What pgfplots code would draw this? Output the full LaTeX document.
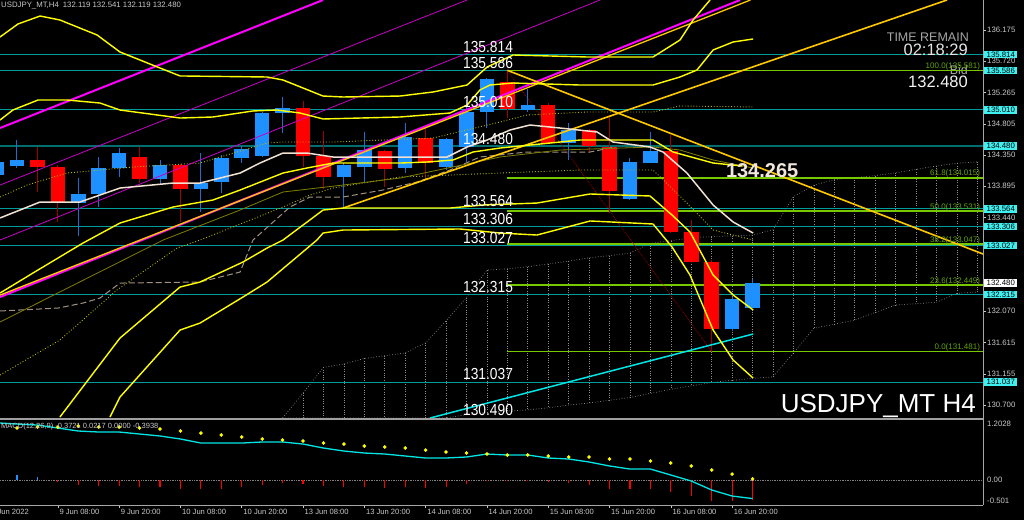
\documentclass[border=0pt]{standalone}
\usepackage{pgfplots}
\pgfplotsset{compat=1.18}
\usepackage{pgfplotstable}
\usepackage{fontspec}
\setmainfont{Liberation Sans}
\definecolor{bullc}{RGB}{30,144,255}
\definecolor{bullw}{RGB}{30,110,210}
\definecolor{bearc}{RGB}{255,0,0}
\definecolor{bearw}{RGB}{160,0,0}
\definecolor{lvl}{RGB}{0,155,155}
\definecolor{lvldark}{RGB}{0,110,110}
\definecolor{fibc}{RGB}{120,200,0}
\definecolor{fibtxt}{RGB}{100,165,0}
\definecolor{gold}{RGB}{255,200,0}
\definecolor{ylw}{RGB}{255,255,0}
\definecolor{olv}{RGB}{128,128,0}
\definecolor{dotyl}{RGB}{185,185,0}
\definecolor{beige}{RGB}{240,225,210}
\definecolor{dashc}{RGB}{160,145,130}
\definecolor{mag}{RGB}{255,0,255}
\definecolor{magt}{RGB}{200,0,200}
\definecolor{cld}{RGB}{140,140,140}
\definecolor{aqua}{RGB}{0,230,230}
\definecolor{boxc}{RGB}{64,240,240}
\definecolor{axt}{RGB}{200,200,200}
\definecolor{lbl}{RGB}{240,230,220}
\definecolor{diag}{RGB}{150,0,0}
\newcommand{\fs}[1]{\fontsize{#1}{#1}\selectfont}

\pgfplotstableread{
k o h l c
-1 134.058 134.306 134.014 134.252
0 134.185 134.569 134.160 134.273
3 133.645 134.019 133.172 133.785
4 133.781 134.317 133.595 134.156
5 134.156 134.448 134.033 134.375
7 133.995 134.277 133.912 134.204
9 133.854 134.384 133.522 133.946
10 133.952 134.350 133.791 134.306
11 134.302 134.482 134.229 134.433
12 134.336 134.982 134.325 134.959
13 134.959 135.201 134.676 135.032
16 134.033 134.233 133.591 134.204
17 134.179 134.690 133.937 134.423
19 134.156 134.822 134.083 134.609
21 134.179 134.598 134.131 134.579
22 134.471 135.153 134.252 134.982
23 134.974 135.474 134.740 135.455
25 135.007 135.309 134.982 135.080
27 134.521 134.813 134.277 134.715
30 133.708 134.302 133.700 134.252
31 134.238 134.690 134.233 134.413
35 131.806 132.277 131.781 132.248
36 132.119 132.541 132.119 132.480
}\bulltab

\pgfplotstableread{
k o h l c
1 134.282 134.463 133.814 134.175
2 134.171 134.204 133.376 133.645
6 134.325 134.471 133.937 133.995
8 134.204 134.219 133.376 133.854
14 135.032 135.139 134.179 134.336
15 134.336 134.705 133.849 134.033
18 134.409 134.423 133.887 134.146
20 134.594 134.740 134.010 134.238
24 135.420 135.586 134.886 135.022
26 135.080 135.114 134.521 134.530
28 134.715 134.730 134.375 134.482
29 134.471 134.934 133.508 133.825
32 134.413 134.642 133.212 133.222
33 133.222 133.401 132.774 132.784
34 132.793 132.817 131.481 131.806
}\beartab

\pgfplotstableread{
k lo hi
13 130.511 130.511
14 130.511 130.875
15 130.511 131.25
16 130.511 131.30
17 130.511 131.38
18 130.511 131.42
19 130.511 131.46
20 130.511 131.61
21 130.511 131.93
22 130.56 132.27
23 130.59 132.67
24 130.61 132.69
25 130.63 132.72
26 130.66 132.76
27 130.70 132.80
28 130.73 132.85
29 130.77 132.88
30 130.81 132.92
31 130.87 133.06
32 130.93 133.10
33 130.98 133.14
34 131.03 133.16
35 131.06 133.17
36 131.09 133.18
37 131.11 133.26
38 131.46 133.74
39 131.82 133.91
40 131.88 133.99
41 131.94 134.02
42 132.05 134.05
43 132.16 134.09
44 132.18 134.14
45 132.20 134.19
46 132.33 134.23
47 132.35 134.25
}\cloudtab

\pgfplotstableread{
k v
2 -0.033
3 -0.100
4 -0.114
5 -0.120
6 -0.147
7 -0.147
8 -0.187
9 -0.187
10 -0.174
11 -0.147
12 -0.100
13 -0.053
14 -0.087
15 -0.120
16 -0.147
17 -0.147
18 -0.160
19 -0.147
20 -0.160
21 -0.134
22 -0.080
23 -0.020
24 -0.013
25 -0.010
26 -0.033
27 -0.053
28 -0.100
29 -0.180
30 -0.187
31 -0.187
32 -0.247
33 -0.321
34 -0.414
35 -0.421
36 -0.394
}\histtab

\newcommand{\lvlline}[1]{\addplot[lvl, line width=0.9pt] coordinates {(-0.83,#1)(47.28,#1)};}
\newcommand{\lvllabel}[1]{\node[anchor=base east, text=white, font=\fs{16}, inner sep=0pt, xscale=0.86, yshift=2pt] at (axis cs:24.28,#1) {#1};}
\newcommand{\lvlbox}[1]{\node[anchor=west, fill=boxc, text=black, font=\fs{7.8}, inner xsep=2.5pt, inner ysep=1pt, xshift=1pt] at (axis cs:47.28,#1) {#1};}
\newcommand{\fibline}[1]{\addplot[fibc, line width=1.6pt] coordinates {(24,#1)(47.28,#1)};}
\newcommand{\fiblabel}[2]{\node[anchor=base east, text=fibtxt, font=\fs{8}, inner sep=0pt, yshift=2pt] at (axis cs:47.14,#2) {#1(#2)};}

\begin{document}
\begin{tikzpicture}
\useasboundingbox (0pt,0pt) rectangle (1024pt,520pt);
\fill[black] (0pt,0pt) rectangle (1024pt,520pt);
\node[anchor=base east, text=gray!70, font=\fs{12.5}, inner sep=0pt] at (968pt,445pt) {Bid};

\begin{axis}[
  at={(0pt,102pt)}, anchor=south west,
  scale only axis, width=983pt, height=418pt,
  xmin=-0.832, xmax=47.28, ymin=130.511, ymax=136.613,
  axis line style={draw=none},
  xtick=\empty,
  ytick={130.700,131.155,131.615,132.070,132.530,132.985,133.440,133.895,134.350,134.805,135.265,135.720,136.175},
  yticklabels={130.700,131.155,131.615,132.070,,,133.440,133.895,134.350,134.805,135.265,135.720,136.175},
  ytick pos=right, yticklabel pos=right,
  yticklabel style={font=\fs{7.8}, text=axt, anchor=west, inner sep=1pt},
  major tick length=3pt, tick align=outside, tick style={axt, line width=0.6pt},
  clip mode=individual,
  every axis plot/.append style={line join=round},
]
% Ichimoku cloud
\addplot[draw=none, mark=none, forget plot,
  error bars/.cd, y dir=minus, y explicit, error mark=none,
  error bar style={draw=cld, dotted, line width=0.6pt}]
  table[x=k, y=hi, y error minus expr=\thisrow{hi}-\thisrow{lo}] {\cloudtab};
\addplot[cld, dotted, line width=0.7pt] table[x=k, y=hi] {\cloudtab};
\addplot[cld, dotted, line width=0.7pt] table[x=k, y=lo] {\cloudtab};

% horizontal levels
\lvlline{135.814}
\lvlline{135.586}
\lvlline{135.010}
\addplot[lvldark, line width=1.8pt] coordinates {(-0.83,134.480)(47.28,134.480)};
\lvlline{133.564}
\lvlline{133.306}
\lvlline{133.027}
\lvlline{132.315}
\lvlline{131.037}

% fibonacci
\fibline{135.581}
\fibline{134.015}
\fibline{133.531}
\fibline{133.047}
\fibline{132.449}
\fibline{131.481}
\addplot[diag, densely dotted, line width=0.8pt] coordinates {(24.0,135.586)(34.0,131.481)};

% candles: wicks
\addplot[draw=none, mark=none, forget plot,
  error bars/.cd, y dir=minus, y explicit, error mark=none,
  error bar style={draw=bullw, solid, line width=1pt}]
  table[x=k, y=h, y error minus expr=\thisrow{h}-\thisrow{l}] {\bulltab};
\addplot[draw=none, mark=none, forget plot,
  error bars/.cd, y dir=minus, y explicit, error mark=none,
  error bar style={draw=bearw, solid, line width=1pt}]
  table[x=k, y=h, y error minus expr=\thisrow{h}-\thisrow{l}] {\beartab};
% candles: bodies
\addplot[draw=none, mark=none, forget plot,
  error bars/.cd, y dir=minus, y explicit, error mark=none,
  error bar style={draw=bullc, solid, line width=14.5pt}]
  table[x=k, y=c, y error minus expr=\thisrow{c}-\thisrow{o}] {\bulltab};
\addplot[draw=none, mark=none, forget plot,
  error bars/.cd, y dir=minus, y explicit, error mark=none,
  error bar style={draw=bearc, solid, line width=14.5pt}]
  table[x=k, y=o, y error minus expr=\thisrow{o}-\thisrow{c}] {\beartab};

% indicator lines
\addplot[dashc, dashed, dash pattern=on 6pt off 3pt, line width=1pt] coordinates {
(-0.83,132.073)(2.01,132.116)(3.23,132.189)(4.06,132.262)(5.04,132.481)(8.96,132.496)(10.92,132.642)(11.55,133.109)(13.36,133.591)(14.34,133.737)(15.96,133.737)(17.91,133.839)(19.58,133.956)(21.19,134.131)(22.66,134.321)(24.96,134.394)(28.05,134.394)(29.27,134.467)};
\addplot[dotyl, dotted, line width=0.9pt] coordinates {
(-0.83,133.737)(0.49,133.912)(2.45,134.087)(5.68,134.175)(8.96,134.233)(12.24,134.525)(13.02,134.540)(15.47,134.540)(20.36,134.598)(23.64,134.832)(24.96,134.934)(27.9,134.978)(31.13,134.978)(32.45,135.066)(36.03,135.051)};
\addplot[dotyl, dotted, line width=0.9pt] coordinates {
(-0.83,131.138)(2.1,131.649)(4.89,132.379)(7.83,132.992)(8.96,133.109)(13.02,133.591)(14.34,133.766)(15.47,133.868)(18.75,134.029)(23.64,134.087)(27.56,134.131)(31.13,134.131)(32.79,133.649)(34.07,133.255)(36.03,133.109)};
\addplot[olv, line width=0.8pt] coordinates {
(-0.83,131.912)(7.15,133.109)(10.92,133.547)(13.02,133.810)(15.96,133.912)(18.75,134.014)(23.64,134.321)(26.58,134.423)(31.13,134.467)(32.45,134.423)(34.07,134.277)(36.03,134.160)};
\addplot[magt, line width=0.8pt] coordinates {(-0.83,133.912)(22.03,136.613)};
\addplot[magt, line width=0.8pt] coordinates {(-0.83,133.109)(28.54,136.613)};
\addplot[mag, line width=2pt] coordinates {(-0.83,134.744)(14.98,136.613)};
\addplot[mag, line width=2pt] coordinates {(-0.83,132.277)(35.39,136.613)};
\addplot[gold, line width=1.3pt] coordinates {(-0.83,132.305)(35.9,136.613)};
\addplot[gold, line width=1.6pt] coordinates {(15.96,133.576)(45.52,136.613)};
\addplot[gold, line width=1.6pt] coordinates {(24.0,135.586)(47.28,132.905)};
\addplot[aqua, line width=1.5pt] coordinates {(20.22,130.511)(36.03,131.737)};
% bands
\addplot[ylw, line width=1.4pt] coordinates {
(-0.83,136.073)(0.05,136.263)(1.13,136.379)(2.10,136.321)(3.92,136.102)(5.04,135.854)(7.00,135.620)(7.98,135.504)(12.24,135.489)(13.02,135.445)(14.98,135.211)(15.96,135.197)(18.75,135.211)(20.36,135.270)(22.03,135.372)(23.01,135.635)(24.28,135.810)(27.90,135.781)(31.13,135.781)(32.45,136.029)(33.09,136.321)(33.92,136.613)};
\addplot[ylw, line width=1.4pt] coordinates {
(-0.83,134.861)(-0.20,135.007)(1.03,135.153)(2.45,135.153)(4.06,135.109)(5.04,135.007)(7.98,134.890)(9.59,134.905)(11.55,134.993)(12.73,135.007)(13.85,134.963)(14.98,134.876)(18.75,134.905)(21.19,134.963)(22.03,135.080)(22.66,135.300)(23.15,135.372)(24.28,135.401)(27.56,135.372)(31.13,135.372)(32.45,135.489)(33.28,135.591)(34.07,135.883)(35.05,136.000)(36.03,136.044)};
\addplot[ylw, line width=1.4pt] coordinates {
(-0.83,132.335)(0.78,132.627)(3.23,133.065)(5.04,133.357)(7.64,133.591)(9.59,133.693)(10.92,133.839)(13.02,134.087)(14.19,134.160)(15.47,134.233)(18.75,134.233)(20.07,134.248)(21.34,134.277)(22.32,134.394)(23.64,134.452)(27.56,134.569)(31.13,134.569)(32.11,134.394)(34.07,134.233)(35.5,134.19)};
\addplot[ylw, line width=1.4pt] coordinates {
(2.10,130.525)(5.04,131.678)(7.98,132.423)(8.96,132.496)(11.06,132.788)(12.24,132.992)(13.02,133.109)(14.00,133.328)(14.98,133.547)(15.96,133.576)(21.19,133.576)(22.81,133.620)(25.45,133.649)(28.05,133.781)(30.98,133.752)(32.06,133.474)(32.94,133.226)(34.07,132.598)(35.05,132.306)(36.03,132.087)};
\addplot[ylw, line width=1.4pt] coordinates {
(4.55,130.525)(5.04,130.817)(7.98,131.795)(8.96,131.897)(11.06,132.277)(12.24,132.496)(14.68,133.109)(14.98,133.211)(15.96,133.255)(21.68,133.270)(23.64,133.211)(25.45,133.182)(28.05,133.387)(31.13,133.343)(32.06,133.007)(32.94,132.598)(34.07,131.795)(35.05,131.357)(36.03,131.094)};
\addplot[beige, line width=1.5pt] coordinates {
(-0.83,133.431)(1.13,133.664)(3.08,133.664)(5.04,133.868)(7.64,133.941)(8.96,133.941)(10.92,134.087)(11.89,134.233)(13.02,134.379)(14.19,134.379)(15.47,134.321)(18.75,134.321)(21.05,134.321)(22.03,134.467)(23.01,134.569)(24.13,134.715)(25.11,134.788)(26.58,134.744)(28.39,134.686)(29.17,134.540)(30.98,134.467)(31.62,134.394)(32.79,134.087)(34.07,133.620)(35.05,133.372)(36.03,133.211)};

% labels
\lvllabel{135.814}
\lvllabel{135.586}
\lvllabel{135.010}
\lvllabel{134.480}
\lvllabel{133.564}
\lvllabel{133.306}
\lvllabel{133.027}
\lvllabel{132.315}
\lvllabel{131.037}
\node[anchor=base east, text=white, font=\fs{16}, inner sep=0pt, xscale=0.86] at (axis cs:24.28,130.545) {130.490};
\fiblabel{100.0}{135.581}
\fiblabel{61.8}{134.015}
\fiblabel{50.0}{133.531}
\fiblabel{38.2}{133.047}
\fiblabel{23.6}{132.449}
\fiblabel{0.0}{131.481}
\node[anchor=base, text=lbl, font=\bfseries\fs{20}, inner sep=0pt] at (axis cs:36.47,134.029) {134.265};
\lvlbox{135.814}
\lvlbox{135.586}
\lvlbox{135.010}
\lvlbox{134.480}
\lvlbox{133.564}
\lvlbox{133.306}
\lvlbox{133.027}
\lvlbox{132.315}
\lvlbox{131.037}
\node[anchor=west, fill=white, text=black, font=\fs{7.8}, inner xsep=2.5pt, inner ysep=1pt, xshift=1pt] at (axis cs:47.28,132.480) {132.480};
\end{axis}

\begin{axis}[
  at={(0pt,15pt)}, anchor=south west,
  scale only axis, width=983pt, height=85pt,
  xmin=-0.832, xmax=47.28, ymin=-0.501, ymax=1.2028,
  axis line style={draw=none},
  xtick={2,5,...,35}, xtick pos=bottom,
  xticklabels={9 Jun 08:00,9 Jun 20:00,10 Jun 08:00,10 Jun 20:00,13 Jun 08:00,13 Jun 20:00,14 Jun 08:00,14 Jun 20:00,15 Jun 08:00,15 Jun 20:00,16 Jun 08:00,16 Jun 20:00},
  xticklabel style={font=\fs{7.6}, text=axt, anchor=north west, inner sep=0pt, xshift=1.5pt, yshift=-1pt},
  ytick=\empty,
  major tick length=3pt, tick align=outside, tick style={axt, line width=0.6pt},
  clip mode=individual,
]
\addplot[gray, densely dotted, line width=0.7pt] coordinates {(-0.83,0)(47.28,0)};
\addplot[ycomb, bullc, line width=1.1pt] coordinates {(0,0.100)(1,0.053)};
\addplot[ycomb, bearc, line width=1.1pt] table[x=k, y=v] {\histtab};
\addplot[aqua, line width=1.3pt] coordinates {
(-0.83,1.142)(0,1.122)(1,1.102)(2,1.042)(3,0.982)(4,0.962)(5,0.962)(6,0.922)(7,0.882)(8,0.822)(9,0.741)(10,0.741)(11,0.741)(12,0.762)(13,0.762)(14,0.721)(15,0.641)(16,0.581)(17,0.541)(18,0.521)(19,0.481)(20,0.441)(21,0.441)(22,0.461)(23,0.521)(24,0.501)(25,0.501)(26,0.441)(27,0.421)(28,0.361)(29,0.281)(30,0.220)(31,0.220)(32,0.100)(33,-0.020)(34,-0.200)(35,-0.321)(36,-0.372)};
\addplot[only marks, mark=*, mark size=1.6pt, ylw] coordinates {
(0,1.042)(1,1.062)(2,1.062)(3,1.082)(4,1.062)(5,1.062)(6,1.042)(7,1.022)(8,0.982)(9,0.942)(10,0.902)(11,0.862)(12,0.822)(13,0.802)(14,0.782)(15,0.741)(16,0.721)(17,0.681)(18,0.661)(19,0.641)(20,0.601)(21,0.561)(22,0.541)(23,0.521)(24,0.501)(25,0.501)(26,0.481)(27,0.461)(28,0.461)(29,0.421)(30,0.421)(31,0.381)(32,0.341)(33,0.281)(34,0.200)(35,0.120)(36,0.022)};
\end{axis}

% frames
\draw[gray!70, line width=1pt] (983pt,15pt) -- (983pt,520pt);
\draw[gray!75, line width=1.8pt] (0pt,101pt) -- (983pt,101pt);
\draw[gray!70, line width=1pt] (0pt,15pt) -- (983pt,15pt);

% texts
\node[anchor=north west, text=axt, font=\fs{7.6}, inner sep=0pt] at (-9pt,11pt) {8 Jun 2022};
\node[anchor=base west, text=axt, font=\fs{7.8}, inner sep=0pt] at (1pt,512.5pt) {USDJPY\_MT,H4\hspace{4pt}132.119 132.541 132.119 132.480};
\node[anchor=base west, text=axt, font=\fs{7.5}, inner sep=0pt] at (1pt,92pt) {MACD(12,26,9) -0.3721 0.0217 0.0000 -0.3938};
\node[anchor=base east, text=gray!70, font=\fs{12.5}, inner sep=0pt] at (969pt,478pt) {TIME REMAIN};
\node[anchor=base east, text=white!90!black, font=\fs{16.5}, inner sep=0pt] at (968pt,464pt) {02:18:29};
\node[anchor=base east, text=white!95!black, font=\fs{16.5}, inner sep=0pt] at (968pt,432pt) {132.480};
\node[anchor=base east, text=white, font=\fs{26}, inner sep=0pt] at (976pt,108pt) {USDJPY\_MT H4};
\node[anchor=west, text=axt, font=\fs{7.8}, inner sep=0pt] at (987pt,96pt) {1.2028};
\node[anchor=west, text=axt, font=\fs{7.8}, inner sep=0pt] at (987pt,40pt) {0.00};
\node[anchor=west, text=axt, font=\fs{7.8}, inner sep=0pt] at (987pt,19pt) {-0.501};
\end{tikzpicture}
\end{document}
